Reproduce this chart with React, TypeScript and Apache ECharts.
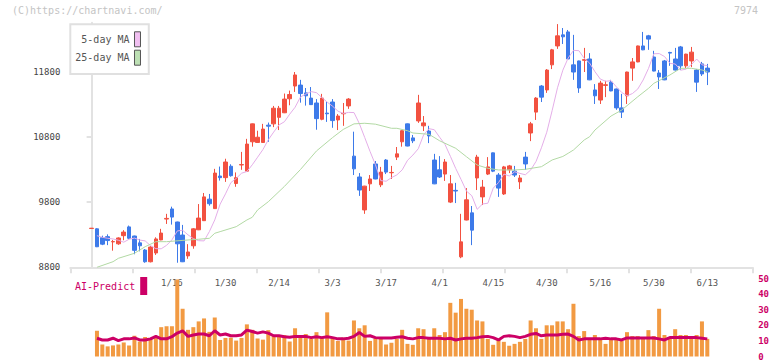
import React, { useEffect, useRef } from "react";
import * as echarts from "echarts";

const dates = [
  "12/19","12/20","12/23","12/24","12/25","12/26","12/27","12/30",
  "1/6","1/7","1/8","1/9","1/10","1/14","1/15","1/16","1/17","1/20","1/21","1/22","1/23","1/24","1/27","1/28","1/29","1/30","1/31",
  "2/3","2/4","2/5","2/6","2/7","2/10","2/12","2/13","2/14","2/17","2/18","2/19","2/20","2/21","2/25","2/26","2/27","2/28",
  "3/3","3/4","3/5","3/6","3/7","3/10","3/11","3/12","3/13","3/14","3/17","3/18","3/19","3/21","3/24","3/25","3/26","3/27","3/28","3/31",
  "4/1","4/2","4/3","4/4","4/7","4/8","4/9","4/10","4/11","4/14","4/15","4/16","4/17","4/18","4/21","4/22","4/23","4/24","4/25","4/28","4/30",
  "5/1","5/2","5/7","5/8","5/9","5/12","5/13","5/14","5/15","5/16","5/19","5/20","5/21","5/22","5/23","5/26","5/27","5/28","5/29","5/30",
  "6/2","6/3","6/4","6/5","6/6","6/9","6/10","6/11","6/12","6/13"
];

const opens = [
  9395,9390,9255,9270,9190,9160,9285,9420,9280,9175,
  9065,8885,9020,9220,9540,9695,9495,9295,8975,9130,
  9375,9515,9845,9700,10200,10175,10350,10085,10370,10275,
  10725,10715,10715,10980,11000,11100,11170,11385,11580,11595,
  11475,11395,11320,11070,11165,11335,11060,11155,11275,10505,
  10185,9680,10080,10385,10065,10445,10250,10490,10725,11000,
  10785,11045,10970,10890,10445,10295,10230,9800,9980,8960,
  9525,9635,10170,9880,10230,10555,10215,9925,10295,10275,
  10110,10490,10860,11180,11580,11520,11905,12195,12365,12410,
  11905,11965,11975,11995,11520,11365,11590,11640,11535,11245,
  11430,11855,11950,12195,12350,12025,11780,11965,12095,11995,
  12180,11890,11965,11825,11920,11855
];
const closes = [
  9400,9115,9155,9210,9195,9250,9340,9245,9060,9130,
  8885,9110,9235,9325,9550,9570,9160,8885,9035,9390,
  9555,9880,9775,10245,10175,10415,10205,10175,10375,10690,
  11000,10795,10920,10965,11240,11240,11380,11450,11750,11465,
  11430,11295,11080,11395,11155,11050,11120,11160,11380,10310,
  9985,10045,10155,10155,10260,10260,10255,10540,10895,10660,
  10740,11320,11015,10815,10080,10185,10415,10080,9970,9190,
  9835,9370,10490,10030,10340,10275,10015,10340,10355,10215,
  10170,10385,11000,11395,11410,11825,12135,12350,12335,11995,
  11795,11550,11985,11675,11430,11625,11600,11505,11245,11180,
  11795,11950,12195,12135,12300,11810,11720,11675,12085,11825,
  11890,12070,12100,11640,11765,11795
];
const lows = [
  9395,9110,9140,9140,9055,9145,9215,9235,9000,9045,
  8870,8875,8990,9215,9465,9455,8870,8880,8930,9085,
  9370,9510,9745,9695,10130,10110,10190,10035,10295,10270,
  10650,10710,10710,10725,10950,10905,11165,11285,11490,11325,
  11280,11290,10910,11055,11030,10940,10905,10970,11230,10215,
  9895,9620,9970,10150,10030,10230,10155,10445,10650,10655,
  10705,11015,10890,10705,10075,10170,10125,9785,9785,8940,
  9520,9140,9985,9755,10215,10260,9880,9910,10245,10185,
  10000,10295,10735,11060,11335,11475,11840,12150,12225,11990,
  11675,11475,11795,11670,11305,11305,11410,11500,11215,11090,
  11305,11660,11945,12130,12135,11805,11535,11670,11890,11820,
  11825,11855,11870,11490,11735,11595
];
const highs = [
  9400,9400,9285,9305,9220,9260,9370,9440,9285,9235,
  9080,9125,9260,9390,9620,9730,9500,9450,9155,9400,
  9770,9940,9925,10310,10345,10465,10380,10255,10570,10770,
  11005,10895,11000,11020,11275,11275,11465,11510,11795,11675,
  11550,11565,11380,11460,11335,11380,11150,11320,11395,10880,
  10245,10050,10215,10430,10340,10460,10355,10645,10900,11005,
  10830,11445,11120,10970,10540,10505,10460,10215,10095,9620,
  10015,9740,10525,10140,10490,10560,10245,10355,10370,10355,
  10215,10570,11030,11410,11595,11840,12150,12530,12470,12440,
  12365,11970,12165,12085,11610,11660,11660,11675,11540,11460,
  11800,12010,12200,12410,12365,12120,11825,11980,12105,12165,
  12195,12075,12180,11840,11950,11920
];

// 5-day MA as drawn (null where the line has not started)
const ma5 = [
  null,9285,9260,9245,9235,9215,9185,9230,9248,9218,
  9205,9132,9086,9084,9137,9221,9358,9368,9298,9240,
  9208,9205,9349,9527,9769,9926,10098,10163,10243,10269,
  10372,10489,10607,10756,10874,10984,11032,11149,11255,11412,
  11457,11495,11478,11404,11333,11271,11195,11160,11176,11173,
  11004,10791,10576,10375,10130,10120,10175,10217,10294,10442,
  10522,10618,10831,10926,10910,10794,10683,10502,10315,10146,
  9968,9898,9689,9771,9783,10013,10101,10230,10200,10265,
  10240,10219,10293,10425,10633,10872,11203,11553,11823,12011,
  12128,12122,12005,11932,11800,11687,11653,11663,11567,11481,
  11431,11465,11535,11673,11851,12075,12078,12032,11928,11918,
  11823,11839,11909,11994,11905,11893
];

// 25-day MA at these candle positions
const ma25Idx = [1,4,5,8,10,12,14,18,20,22,23,24,27,29,30,31,33,36,39,42,45,47,49,51,53,56,57,59,60,63,65,68,70,72,74,76,79,81,84,86,88,89,90,92,93,94,97,99,102,104,105,108,110,112,114,115];
const ma25Val = [8800,8886,8938,9015,9116,9193,9193,9219,9230,9245,9322,9347,9423,9526,9567,9680,9806,10040,10300,10585,10790,10915,11000,11009,10995,10932,10932,10895,10860,10840,10740,10625,10496,10369,10318,10293,10293,10303,10343,10446,10500,10549,10600,10753,10803,10906,11120,11212,11416,11545,11622,11750,11852,11852,11826,11800];

const volume = [
  null,16.5,7.7,6.5,7.1,7.7,9.0,7.1,13.3,9.6,
  12.5,11.3,12.1,18.8,19.4,19.4,49.4,30.6,17.1,18.8,
  22.5,24.4,15.8,25,10.6,11.9,12.1,10.2,11.9,20.6,
  17.1,11.5,10.8,16.9,13.1,13.3,13.8,9.6,18.1,13.8,
  14.4,11.3,15.6,11.9,28.3,12.5,10,12.1,10.2,23.1,
  18.1,20,10,11.5,11.7,7.7,8.8,11.3,17.1,8.1,
  7.5,18.1,17.5,11.3,18.1,13.8,15.6,34.4,28.1,36.9,
  30.6,30,23.1,22.5,11.3,7.5,11.3,9.4,6.9,8.1,
  9.4,11.3,23.1,18.1,11.3,20,20,22.5,22.5,17.5,
  33.8,13.1,16.3,11.3,13.8,11.3,8.1,11.3,11.3,10,
  15.6,13.1,13.1,11.3,16.9,13.1,30.6,13.8,12.5,17.5,
  13.8,13.8,11.3,13.8,22.5,11.3
];
const aiPredict = [
  null,11.7,10.6,10.6,11.7,10.2,11.3,11.3,11.9,10.6,
  10.6,11.3,12.9,11.3,11.3,12.7,15,16.5,12.9,13.8,
  14.4,14.4,13.3,16.5,13.8,14.4,13.3,13.3,13.8,16.9,
  16,15,15.8,15,13.3,13.3,12.7,12.3,12.9,12.9,
  12.9,12.1,12.7,12.1,12.7,12.1,11.3,11.3,11.7,12.9,
  15.4,12.9,13.3,12.1,11.9,11.9,11.9,12.3,12.7,11.7,
  11.3,12.1,12.1,11.7,11.7,11.7,11.3,11.7,10.6,11.3,
  11.7,11.7,12.1,12.7,12.9,12.1,10.6,12.9,13.3,12.9,
  12.1,12.9,14.2,14.8,13.3,13.8,13.8,13.8,14.2,14.4,
  12.9,10.6,11.3,11.3,11.3,11.3,11.7,11.3,11.3,10.6,
  11.9,11.9,11.9,11.9,11.9,11.9,11.3,10.6,12.1,12.1,
  12.1,12.1,12.1,12.1,11.7,11.3
];

const dateLabelIdx = [15, 25, 35, 45, 55, 65, 75, 85, 95, 105, 115];
const priceTicks = [8800, 9800, 10800, 11800];
const rightTicks = [0, 10, 20, 30, 40, 50];
const tickSlots = ["", "", "", "", "", "", "", "", "", "", ""];

const RED = "#f25140";
const BLUE = "#3d7ae9";
const PINK = "#e4aee8";
const GREEN = "#b2d9a4";
const MAGENTA = "#cc0066";
const ORANGE = "#f29a42";
const MONO = "DejaVu Sans Mono";

export default function App() {
  const ref = useRef<HTMLDivElement>(null);
  useEffect(() => {
    if (!ref.current) return;
    const chart = echarts.init(ref.current, null, { renderer: "svg" });
    const candleData = dates.map((_, i) => [i, opens[i], closes[i], lows[i], highs[i]]);
    const ma5Data = ma5.map((v, i) => [i, v]).filter((d) => d[1] != null);
    const ma25Data = ma25Idx.map((x, i) => [x, ma25Val[i]]);
    const volData = volume.map((v, i) => [i, v]).filter((d) => d[1] != null);
    const aiData = aiPredict.map((v, i) => [i, v]).filter((d) => d[1] != null);
    const xMin = -3.98;
    const xMax = 123.38;
    const axisGrey = "#e2e2e2";

    chart.setOption({
      animation: false,
      backgroundColor: "#ffffff",
      title: [
        { text: "(C)https://chartnavi.com/", left: 12, top: 5, padding: 0,
          textStyle: { fontFamily: MONO, fontSize: 10, color: "#c4c4c4", fontWeight: "normal" } },
        { text: "7974", right: 14, top: 5, padding: 0,
          textStyle: { fontFamily: MONO, fontSize: 10, color: "#c4c4c4", fontWeight: "normal" } },
      ],
      legend: [
        {
          data: [
            { name: "5-day MA", itemStyle: { color: "#f0bff0", borderColor: "#555", borderWidth: 1 } },
            { name: "25-day MA", itemStyle: { color: "#bde0b4", borderColor: "#555", borderWidth: 1 } },
          ],
          orient: "vertical",
          left: 70.3,
          top: 24.3,
          align: "right",
          icon: "rect",
          itemWidth: 6,
          itemHeight: 15,
          itemGap: 2.4,
          padding: [7, 7.8, 8.4, 5],
          backgroundColor: "#ffffff",
          borderColor: "#e0e0e0",
          borderWidth: 2,
          selectedMode: false,
          formatter: (name: string) => (name === "5-day MA" ? "\u00a05-day MA" : name),
          textStyle: { fontFamily: MONO, fontSize: 10, color: "#555" },
        },
        {
          data: [{ name: "AI-Predict", itemStyle: { color: MAGENTA } }],
          left: 75,
          top: 277,
          align: "right",
          icon: "rect",
          itemWidth: 7,
          itemHeight: 18,
          padding: 0,
          selectedMode: false,
          textStyle: { fontFamily: MONO, fontSize: 10, color: MAGENTA },
        },
      ],
      grid: [
        { left: 70.3, right: 19.7, top: 22.8, height: 244.5 },
        { left: 70.3, right: 19.7, top: 278.5, height: 80 },
      ],
      xAxis: [
        {
          type: "value", gridIndex: 0, min: xMin, max: xMax,
          axisLine: { show: true, lineStyle: { color: axisGrey, width: 2 } },
          axisTick: { show: false },
          splitLine: { show: false },
          axisLabel: {
            customValues: dateLabelIdx,
            formatter: (v: number) => dates[Math.round(v)] ?? "",
            margin: 11, fontFamily: MONO, fontSize: 9, color: "#555",
          },
        },
        {
          type: "category", gridIndex: 0, position: "bottom", data: tickSlots, boundaryGap: true,
          axisLine: { show: false },
          axisTick: { show: true, interval: 0, length: 6, lineStyle: { color: axisGrey, width: 2 } },
          axisLabel: { show: false },
          splitLine: { show: false },
        },
        {
          type: "value", gridIndex: 1, min: xMin, max: xMax, show: false,
          splitLine: { show: false },
        },
      ],
      yAxis: [
        {
          type: "value", gridIndex: 0, min: 8800, max: 12550,
          axisLine: { show: true, lineStyle: { color: axisGrey, width: 2 } },
          axisTick: { show: true, customValues: priceTicks, length: 5, lineStyle: { color: axisGrey, width: 2 } },
          axisLabel: { customValues: priceTicks, formatter: (v: number) => String(v), margin: 10, fontFamily: MONO, fontSize: 9, color: "#444" },
          splitLine: { show: false },
        },
        {
          type: "value", gridIndex: 1, min: 0, max: 50, position: "right",
          axisLine: { show: false }, axisTick: { show: false }, splitLine: { show: false },
          axisLabel: { customValues: rightTicks, formatter: (v: number) => String(v), margin: 6, fontFamily: MONO, fontSize: 9, fontWeight: "bold", color: MAGENTA },
        },
      ],
      series: [
        {
          type: "candlestick", name: "price", xAxisIndex: 0, yAxisIndex: 0,
          data: candleData, barWidth: 4,
          itemStyle: { color: RED, color0: BLUE, borderColor: RED, borderColor0: BLUE, borderColorDoji: RED, borderWidth: 1 },
          z: 3,
        },
        {
          type: "line", name: "5-day MA", xAxisIndex: 0, yAxisIndex: 0, data: ma5Data,
          showSymbol: false, symbol: "none", lineStyle: { color: PINK, width: 1 }, itemStyle: { color: PINK }, z: 4,
        },
        {
          type: "line", name: "25-day MA", xAxisIndex: 0, yAxisIndex: 0, data: ma25Data,
          showSymbol: false, symbol: "none", lineStyle: { color: GREEN, width: 1 }, itemStyle: { color: GREEN }, z: 4,
        },
        {
          type: "bar", name: "volume", xAxisIndex: 2, yAxisIndex: 1, data: volData, barWidth: 4,
          itemStyle: { color: ORANGE }, z: 3,
        },
        {
          type: "line", name: "AI-Predict", xAxisIndex: 2, yAxisIndex: 1, data: aiData,
          showSymbol: false, symbol: "none", lineStyle: { color: MAGENTA, width: 3 }, itemStyle: { color: MAGENTA }, z: 5,
        },
      ],
    });
    return () => chart.dispose();
  }, []);
  return <div ref={ref} style={{ position: "fixed", left: 0, top: 0, width: 772, height: 361 }} />;
}
